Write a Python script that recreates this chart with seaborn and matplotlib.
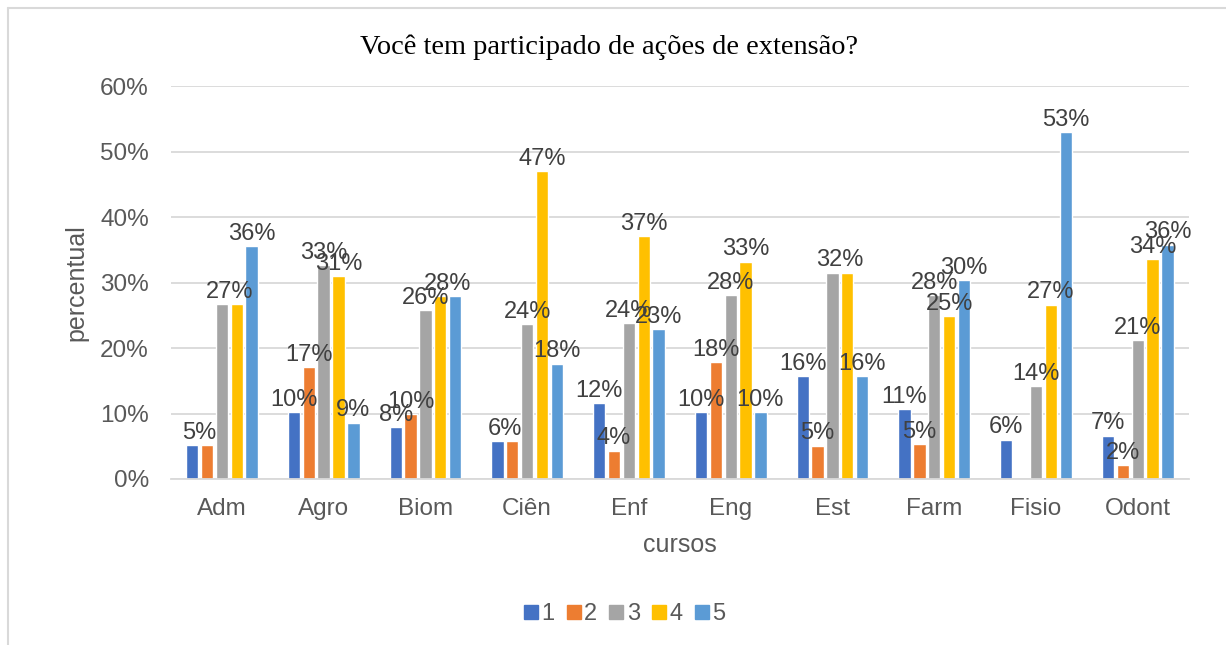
import pandas as pd
import numpy as np
import matplotlib.pyplot as plt
import seaborn as sns
from matplotlib.lines import Line2D

# dados (percentual por curso e resposta 1-5)
cursos = ['Adm', 'Agro', 'Biom', 'Ciên', 'Enf', 'Eng', 'Est', 'Farm', 'Fisio', 'Odont']
resp_1 = [5.2, 10.2, 7.9, 5.8, 11.6, 10.2, 15.7, 10.7, 6.0, 6.6]
resp_2 = [5.2, 17.1, 9.9, 5.8, 4.3, 17.8, 5.1, 5.3, 0.0, 2.1]  # Fisio sem resposta 2
resp_3 = [26.7, 32.7, 25.8, 23.6, 23.8, 28.1, 31.5, 28.1, 14.2, 21.2]
resp_4 = [26.7, 31.0, 27.9, 47.0, 37.1, 33.2, 31.5, 24.9, 26.6, 33.6]
resp_5 = [35.6, 8.6, 27.9, 17.6, 22.9, 10.2, 15.7, 30.4, 53.0, 35.8]
respostas = ['1', '2', '3', '4', '5']
cores = ['#4472C4', '#ED7D31', '#A5A5A5', '#FFC000', '#5B9BD5']

df = pd.DataFrame({'cursos': cursos, '1': resp_1, '2': resp_2, '3': resp_3,
                   '4': resp_4, '5': resp_5})
df = df.melt(id_vars='cursos', var_name='resposta', value_name='percentual')

sns.set_style('white')
plt.rcParams['font.family'] = ['Liberation Sans', 'DejaVu Sans']

fig = plt.figure(figsize=(12.26, 6.45), dpi=100)
ax = fig.add_axes([0.1395, 0.2574, 0.830, 0.609])

sns.barplot(data=df, x='cursos', y='percentual', hue='resposta', hue_order=respostas,
            palette=cores, width=0.73, gap=0.17, saturation=1, ax=ax, legend=False)

# rótulos de dados (valores iguais lado a lado ficam com um rótulo só)
for i in range(len(cursos)):
    barras = [cont[i] for cont in ax.containers]
    vals = [cont.datavalues[i] for cont in ax.containers]
    h = 0
    while h < len(barras):
        v = vals[h]
        if v <= 0:
            h += 1
            continue
        txt = f'{v:.0f}%'
        xs = [barras[h].get_x() + barras[h].get_width() / 2]
        if h + 1 < len(barras) and vals[h + 1] > 0 and f'{vals[h + 1]:.0f}%' == txt:
            xs.append(barras[h + 1].get_x() + barras[h + 1].get_width() / 2)
            h += 1
        ax.annotate(txt, xy=(np.mean(xs), v), xytext=(0, 1), textcoords='offset points',
                    ha='center', va='bottom', fontsize=17, color='#404040')
        h += 1

ax.set_ylim(0, 60)
ax.set_yticks(range(0, 61, 10))
ax.set_yticklabels([f'{t}%' for t in range(0, 61, 10)])
ax.yaxis.grid(True, color='#D9D9D9', linewidth=1.3)
ax.set_axisbelow(True)
for s in ['top', 'right', 'left']:
    ax.spines[s].set_visible(False)
ax.spines['bottom'].set_color('#D9D9D9')
ax.spines['bottom'].set_linewidth(1.3)
ax.tick_params(axis='both', length=0, labelsize=17.5, colors='#595959')
ax.tick_params(axis='y', pad=16)
ax.tick_params(axis='x', pad=14)

ax.set_xlabel('cursos', fontsize=18, color='#595959', labelpad=9)
ax.set_ylabel('percentual', fontsize=18, color='#595959', labelpad=8)

fig.text(0.497, 0.926, 'Você tem participado de ações de extensão?',
         ha='center', va='center', fontsize=20.4, family=['Liberation Serif'], color='black')

handles = [Line2D([], [], marker='s', linestyle='', markersize=9.5, color=c) for c in cores]
fig.legend(handles, respostas, loc='center', bbox_to_anchor=(0.509, 0.048), ncol=5,
           frameon=False, fontsize=17, labelcolor='#595959', handletextpad=0.1,
           columnspacing=0.45, handlelength=0.7)

# moldura do gráfico
fig.add_artist(Line2D([0.0063, 0.0063], [0, 0.987], color='#D9D9D9', linewidth=1.5,
                      transform=fig.transFigure))
fig.add_artist(Line2D([0.0063, 1], [0.987, 0.987], color='#D9D9D9', linewidth=1.5,
                      transform=fig.transFigure))

fig.savefig('out.png', dpi=100)
